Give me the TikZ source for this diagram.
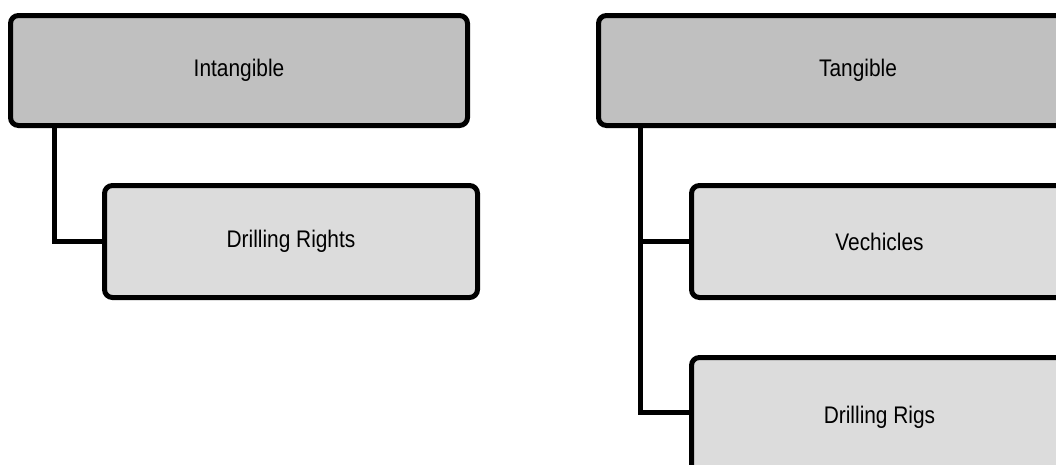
\documentclass[tikz,border=0pt]{standalone}
\usepackage{fontspec}
\setmainfont{Liberation Sans}[FakeStretch=0.87]
\usetikzlibrary{calc,positioning}
\definecolor{TopGray}{HTML}{C0C0C0}
\definecolor{SubGray}{HTML}{DCDCDC}

\tikzset{
  groupbox/.style={draw=black,line width=3.75pt,rounded corners=6pt,fill=TopGray,
    minimum height=82.5pt,inner sep=0pt,font=\fontsize{18pt}{22pt}\selectfont},
  itembox/.style={groupbox,fill=SubGray,minimum height=84pt},
  link/.style={draw=black,line width=3.75pt}
}

\begin{document}
\begin{tikzpicture}[x=0.75pt,y=-0.75pt]
    \useasboundingbox (0,0) rectangle (1056,464);
    % left group
    \node[groupbox,minimum width=342.75pt] (intangible) at (239,70.5) {Intangible};
    \node[itembox,minimum width=279.75pt] (rights) at (291,241.5) {Drilling Rights};
    \draw[link] ($(intangible.south west)+(46.5,0)$) |- (rights.west);
    % right group
    \node[groupbox,minimum width=389.25pt] (tangible) at (858,70.5) {Tangible};
    \node[itembox,minimum width=282pt] (vehicles) at (879.5,241.5) {Vechicles};
    \node[itembox,minimum width=282pt,minimum height=90pt] (rigs) at (879.5,417.5) {Drilling Rigs};
    \coordinate (trunk) at ($(tangible.south west)+(44.5,0)$);
    \draw[link] (trunk) |- ([yshift=3.4pt]rigs.west);
    \draw[link] (trunk |- vehicles.west) -- (vehicles.west);
  \end{tikzpicture}
\end{document}
